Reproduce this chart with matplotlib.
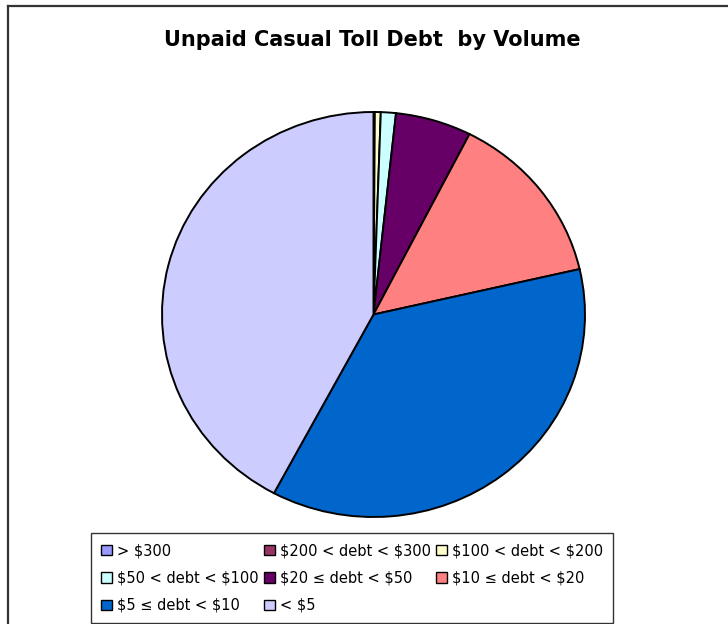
import matplotlib
matplotlib.use("Agg")
import matplotlib.pyplot as plt
from matplotlib.patches import Patch
from matplotlib.lines import Line2D

# Debt bands and share of unpaid items (percent of volume)
bands = ["> \\$300", "\\$200 < debt < \\$300", "\\$100 < debt < \\$200",
         "\\$50 < debt < \\$100", "\\$20 ≤ debt < \\$50", "\\$10 ≤ debt < \\$20",
         "\\$5 ≤ debt < \\$10", "< \\$5"]
shares = [0.05, 0.05, 0.45, 1.15, 5.8, 13.9, 36.4, 42.2]
colors = ["#9999FF", "#993366", "#FFFFCC", "#CCFFFF",
          "#660066", "#FF8080", "#0066CC", "#CCCCFF"]

fig = plt.figure(figsize=(7.28, 6.24), dpi=100)

# chart area border (top and left edges only are visible)
fig.add_artist(Line2D([8 / 728, 1.0], [1 - 6 / 624, 1 - 6 / 624],
                      transform=fig.transFigure, color="#333333", lw=1.6))
fig.add_artist(Line2D([8 / 728, 8 / 728], [0.0, 1 - 6 / 624],
                      transform=fig.transFigure, color="#333333", lw=1.6))

fig.text(0.512, 0.936, "Unpaid Casual Toll Debt  by Volume",
         ha="center", va="center", fontsize=15, fontweight="bold")

ax = fig.add_axes([162 / 728, 1 - 517 / 624, 423 / 728, 405 / 624])
wedges, _ = ax.pie(shares, colors=colors, startangle=90, counterclock=False,
                   wedgeprops=dict(edgecolor="black", linewidth=1.4))
ax.set_aspect("auto")
ax.set_xlim(-1.0, 1.0)
ax.set_ylim(-1.0, 1.0)
ax.axis("off")

# legend entries laid out row by row
handles = [Patch(facecolor=c, edgecolor="black", linewidth=1.0) for c in colors]
order = [0, 3, 6, 1, 4, 7, 2, 5]
leg = fig.legend([handles[i] for i in order], [bands[i] for i in order],
                 ncol=3, loc="upper left",
                 bbox_to_anchor=(91 / 728, 0.0, 522 / 728, 1 - 533 / 624),
                 mode="expand", borderaxespad=0, fontsize=10.5,
                 frameon=True, fancybox=False, edgecolor="black",
                 handlelength=0.75, handleheight=0.75, handletextpad=0.35,
                 labelspacing=0.85, columnspacing=0.5, borderpad=0.7)
leg.get_frame().set_linewidth(1.0)

plt.savefig("out.png", dpi=100)
